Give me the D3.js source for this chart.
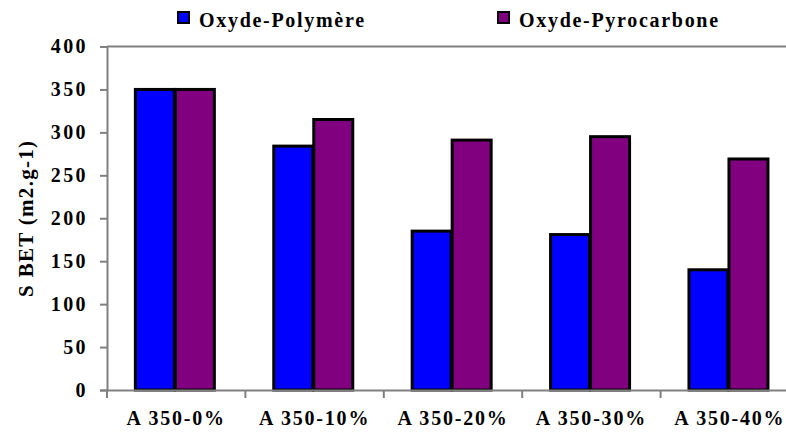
<!DOCTYPE html>
<html>
<head>
<meta charset="utf-8">
<script src="https://cdn.jsdelivr.net/npm/d3@7"></script>
<style>
  body { margin: 0; background: #fff; }
  svg text { font-family: "Liberation Serif", "DejaVu Serif", serif; font-weight: bold; fill: #000; }
</style>
</head>
<body>
<svg id="chart" width="786" height="432"></svg>
<script>
const categories = ['A 350-0%', 'A 350-10%', 'A 350-20%', 'A 350-30%', 'A 350-40%'];
const series = ['Oxyde-Polymère', 'Oxyde-Pyrocarbone'];
const polymere = [350, 284, 185, 181, 140];
const pyrocarbone = [350, 315, 291, 295, 269];
const yTicks = [0, 50, 100, 150, 200, 250, 300, 350, 400];
const colors = ['#0000ff', '#800080'];

const svg = d3.select('#chart');
const mLeft = 107, mRight = 799, mTop = 46.5, mBottom = 390;

const data = categories.map((c, i) => ({cat: c, values: [polymere[i], pyrocarbone[i]]}));

const x0 = d3.scaleBand()
    .domain(categories)
    .range([mLeft, mRight])
    .padding(0);

const x1 = d3.scaleBand()
    .domain(series)
    .range([0, x0.bandwidth()])
    .paddingInner(0)
    .paddingOuter(0.73)
    .align(0.46);

const y = d3.scaleLinear()
    .domain([0, 400])
    .range([mBottom, mTop]);

const fill = d3.scaleOrdinal().domain(series).range(colors);

// top border line at 400
svg.append('line')
    .attr('x1', mLeft).attr('x2', 786)
    .attr('y1', y(400)).attr('y2', y(400))
    .attr('stroke', '#808080').attr('stroke-width', 2);

// bars
svg.append('g').selectAll('g')
    .data(data)
    .join('g')
    .attr('transform', d => `translate(${x0(d.cat)},0)`)
    .selectAll('rect')
    .data(d => d.values.map((v, j) => ({s: series[j], v: v})))
    .join('rect')
    .attr('x', d => x1(d.s) + 1.5)
    .attr('width', x1.bandwidth() - 1)
    .attr('y', d => y(d.v))
    .attr('height', d => y(0) - y(d.v))
    .attr('fill', d => fill(d.s))
    .attr('stroke', '#000')
    .attr('stroke-width', 3);

// y axis
const yAxis = svg.append('g')
    .attr('transform', `translate(${mLeft},0)`)
    .call(d3.axisLeft(y).tickValues(yTicks).tickSizeOuter(0).tickSize(7).tickPadding(12));
yAxis.select('.domain').attr('stroke', '#808080').attr('stroke-width', 2);
yAxis.selectAll('.tick line').attr('stroke', '#808080').attr('stroke-width', 2);
yAxis.selectAll('.tick text')
    .style('font-size', '20px')
    .style('letter-spacing', '2.4px')
    .attr('dy', '0.32em');

// x axis
const xAxis = svg.append('g')
    .attr('transform', `translate(0,${mBottom})`)
    .call(d3.axisBottom(x0).tickSize(0).tickSizeOuter(0).tickPadding(21));
xAxis.select('.domain').attr('stroke', '#808080').attr('stroke-width', 2);
xAxis.selectAll('.tick text')
    .style('font-size', '20px')
    .style('letter-spacing', '1.8px');

// category boundary ticks
svg.append('g').selectAll('line')
    .data(categories)
    .join('line')
    .attr('x1', d => x0(d)).attr('x2', d => x0(d))
    .attr('y1', mBottom).attr('y2', mBottom + 8)
    .attr('stroke', '#808080').attr('stroke-width', 2);

// y axis title
svg.append('text')
    .attr('transform', `translate(33,${(mTop + mBottom) / 2}) rotate(-90)`)
    .attr('text-anchor', 'middle')
    .style('font-size', '21px')
    .style('letter-spacing', '1.3px')
    .text('S BET (m2.g-1)');

// legend
const legendX = [178, 498];
const legend = svg.append('g').selectAll('g')
    .data(series)
    .join('g')
    .attr('transform', (d, i) => `translate(${legendX[i]},12)`);
legend.append('rect')
    .attr('width', 11).attr('height', 11)
    .attr('fill', d => fill(d))
    .attr('stroke', '#000').attr('stroke-width', 2);
legend.append('text')
    .attr('x', 21).attr('y', 15)
    .style('font-size', '20px')
    .style('letter-spacing', '1.7px')
    .text(d => d);
</script>
</body>
</html>
